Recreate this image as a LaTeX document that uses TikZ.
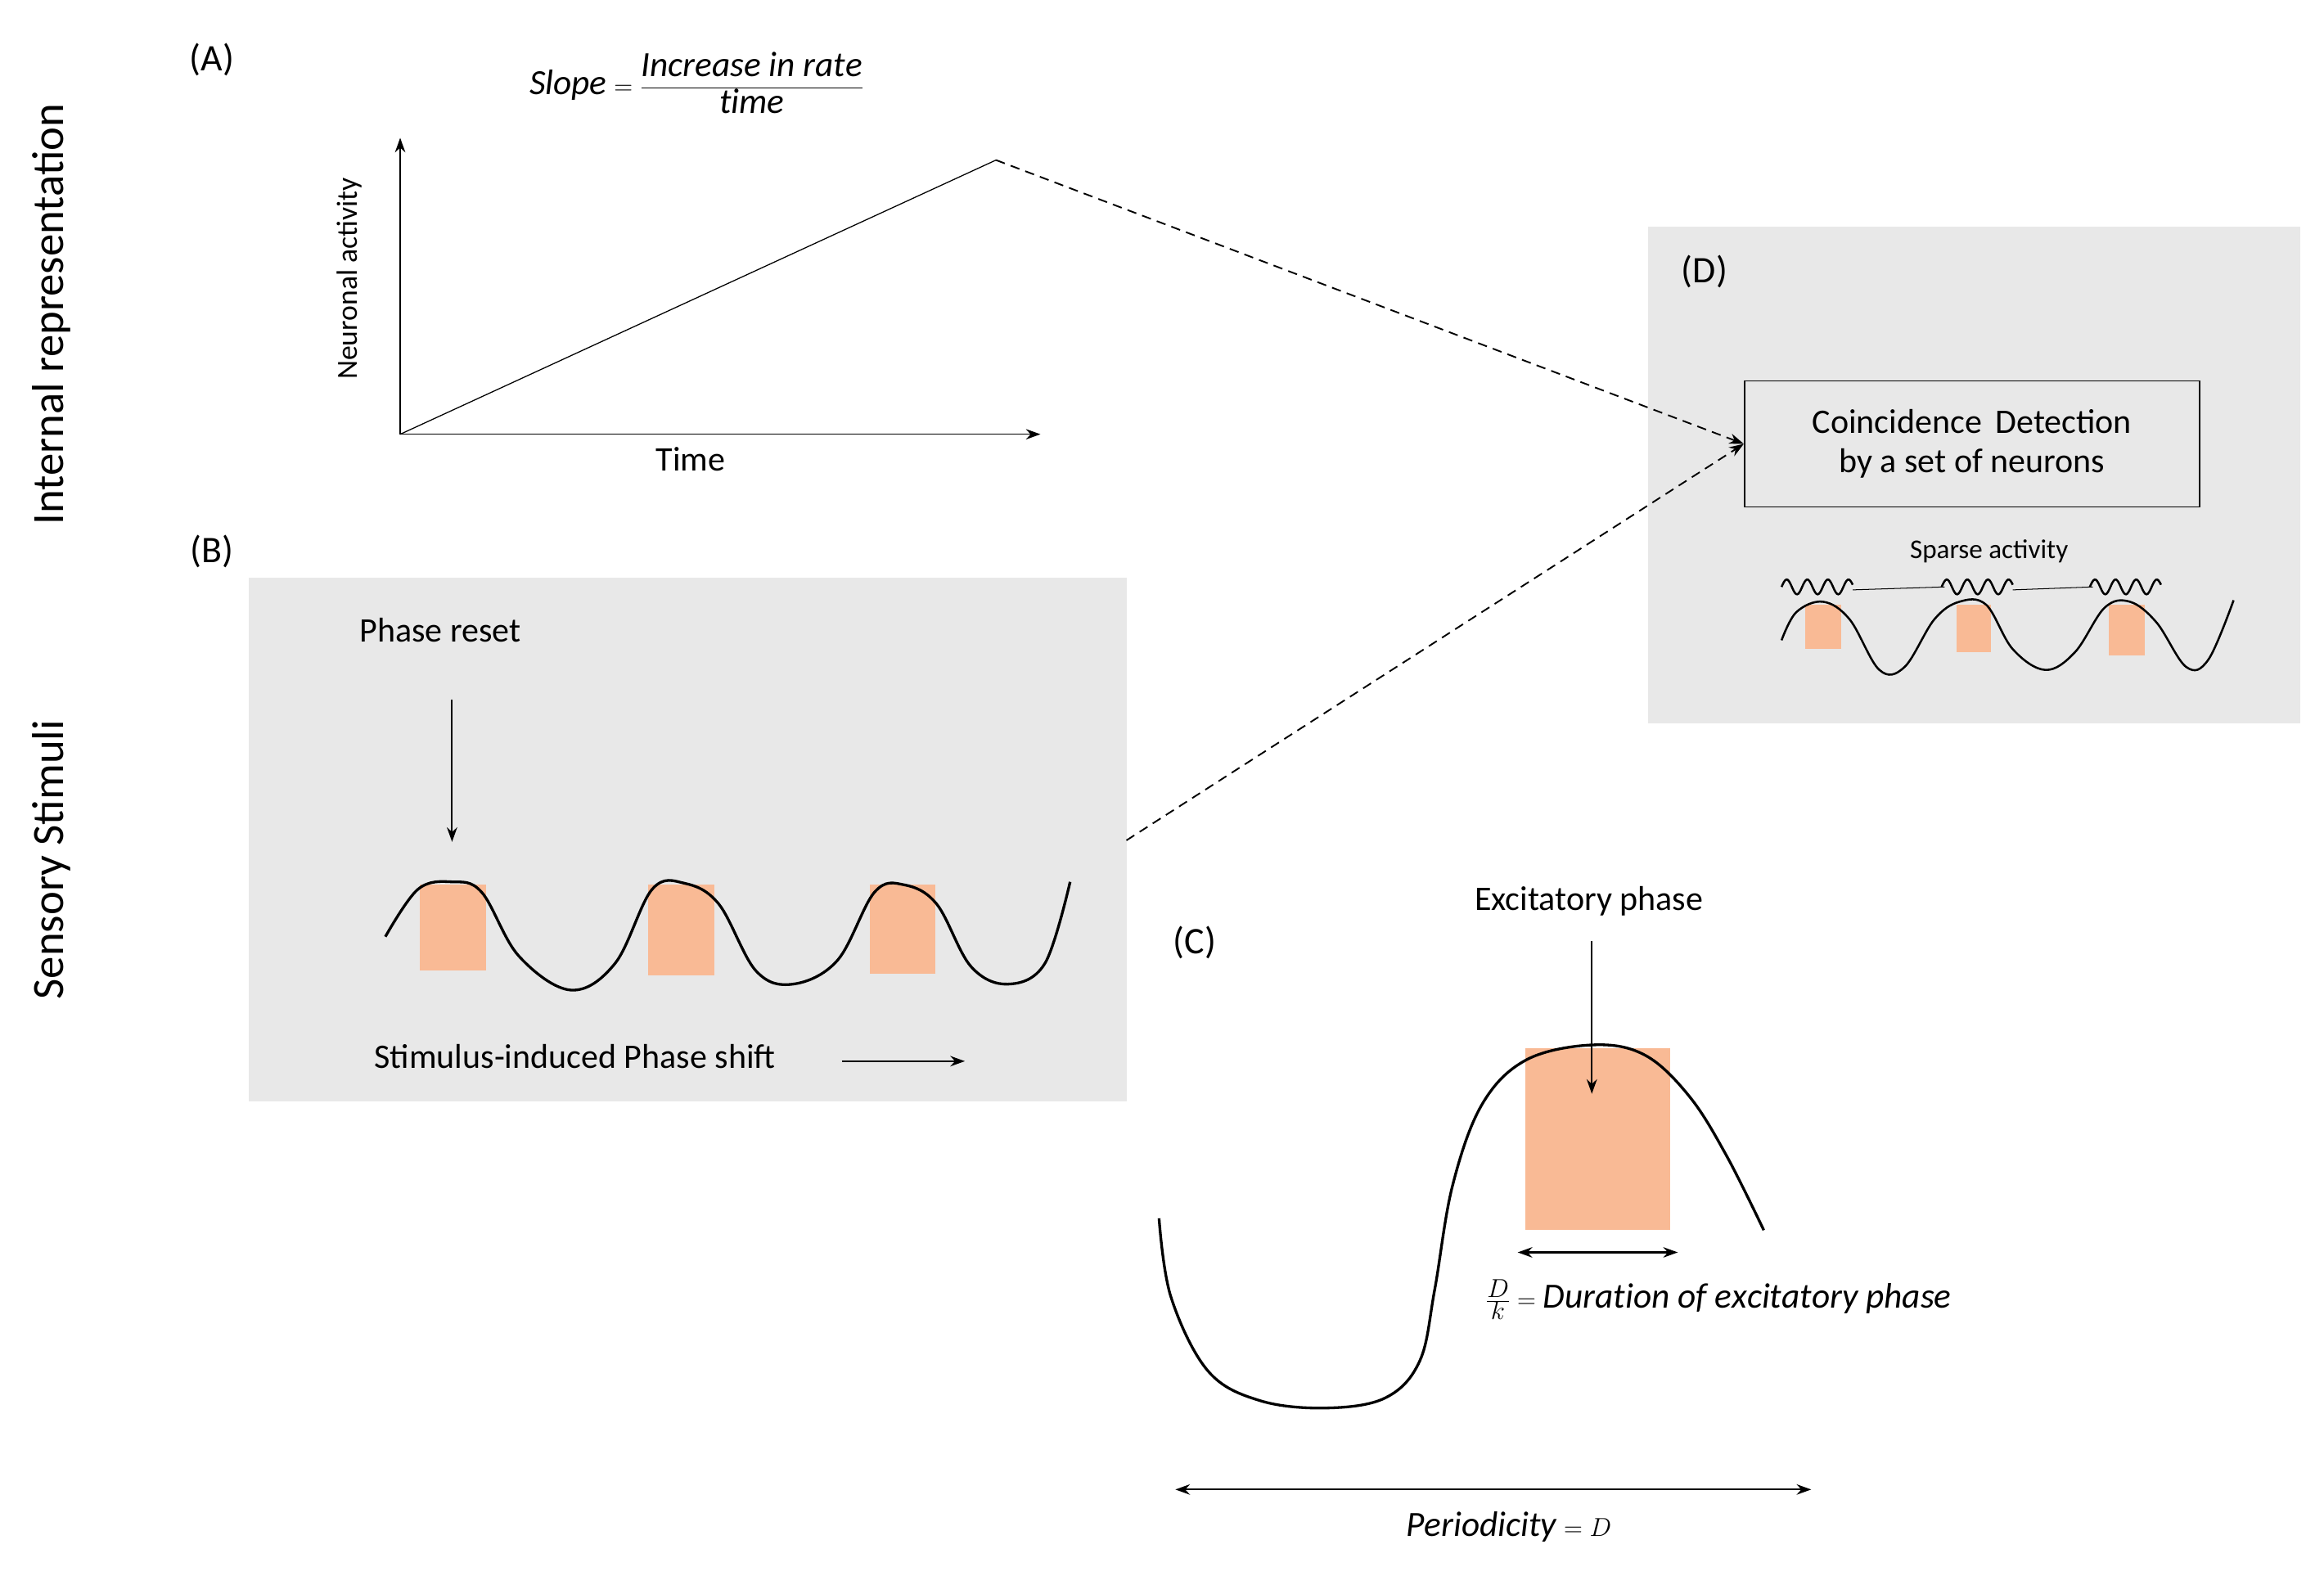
\documentclass[tikz,border=0pt]{standalone}
\usepackage{fontspec}
\setmainfont{Carlito}
\usetikzlibrary{arrows.meta}
\definecolor{bx}{HTML}{E8E8E8}
\definecolor{og}{HTML}{F9BA95}
\tikzset{
 wave/.style={line width=2.6pt,smooth,tension=0.6},
 arr/.style={-{Stealth[length=14pt,width=10pt]},line width=1.6pt},
 darr/.style={{Stealth[length=14pt,width=10pt]}-{Stealth[length=14pt,width=10pt]},line width=1.6pt},
 dsh/.style={line width=1.5pt,dash pattern=on 9pt off 6pt},
 lab/.style={font=\fontsize{36}{40}\selectfont},
 txt/.style={font=\fontsize{33}{38}\selectfont},
 sm/.style={font=\fontsize{28}{32}\selectfont},
}
\begin{document}
\begin{tikzpicture}[x=0.05cm,y=-0.05cm]
\useasboundingbox (0,0) rectangle (1568,1063);
% side labels
\node[rotate=90,font=\fontsize{43}{48}\selectfont] (ir) at (35,212) {Internal representation};
\node[rotate=90,font=\fontsize{43}{48}\selectfont] (ss) at (35,580) {Sensory Stimuli};
% (A)
\node[lab] (A) at (143,40) {(A)};
\node[font=\fontsize{34}{38}\selectfont] (sl) at (470,56) {$\displaystyle\mathit{Slope}=\frac{\mathit{Increase\ in\ rate}}{\mathit{time}}$};
\coordinate (o) at (270,293);
\coordinate (yt) at (270,93);
\coordinate (xt) at (702,293);
\coordinate (pk) at (672,108);
\draw[arr,line width=1.2pt] (o) -- (yt);
\draw[arr,line width=1.2pt] (o) -- (xt);
\draw[line width=1pt] (o) -- (pk);
\node[sm,rotate=90] (na) at (236,188) {Neuronal activity};
\node[txt] (tm) at (466,310) {Time};
% (B)
\node[lab] (B) at (143,372) {(B)};
\fill[bx] (168,390) rectangle (760,743);
\coordinate (be) at (760,567);
\node[txt] (pr) at (297,425) {Phase reset};
\fill[og] (283,597) rectangle (328,655);
\fill[og] (437,597) rectangle (482,658);
\fill[og] (587,597) rectangle (631,657);
\draw[wave] plot coordinates {(260,632)(282,600)(305,595)(325,602)(350,645)(385,668)(415,650)(440,600)(462,596)(485,610)(510,655)(535,664)(565,648)(590,602)(610,597)(632,610)(655,652)(680,664)(705,650)(722,595)};
\coordinate (pra) at (305,472); \coordinate (prb) at (305,568);
\draw[arr] (pra) -- (prb);
\node[txt] (sip) at (388,713) {Stimulus-induced Phase shift};
\coordinate (sa) at (568,716); \coordinate (sb) at (651,716);
\draw[arr] (sa) -- (sb);
% (D)
\fill[bx] (1112,153) rectangle (1552,488);
\node[lab] (D) at (1150,183) {(D)};
\node[draw,line width=1.4pt,minimum width=15.35cm,minimum height=4.25cm,align=center,txt,inner sep=0pt] (cd) at (1330.5,299.5) {Coincidence\, Detection\\by a set of neurons};
\node[font=\fontsize{26}{30}\selectfont] (spa) at (1342,372) {Sparse activity};
\fill[og] (1218,408) rectangle (1242,438);
\fill[og] (1320,408) rectangle (1343,440);
\fill[og] (1423,408) rectangle (1447,442);
\draw[wave,line width=2pt] plot coordinates {(1202,432)(1212,413)(1230,406)(1248,418)(1268,452)(1285,450)(1305,418)(1322,406)(1340,408)(1358,438)(1380,452)(1400,440)(1420,410)(1437,406)(1455,420)(1475,450)(1490,445)(1507,405)};
\foreach \s in {1202,1310,1410}{
 \draw[line width=2pt] plot[domain=0:48,samples=60,smooth] ({\s+\x},{396-5*sin(\x*25.9)});
}
\draw[line width=0.8pt] (1250,398) -- (1312,396);
\draw[line width=0.8pt] (1358,398) -- (1412,396);
% dashed connectors
\draw[dsh,-{Stealth[length=14pt,width=10pt]}] (pk) -- (cd.west);
\draw[dsh,-{Stealth[length=14pt,width=10pt]}] (be) -- (cd.west);
% (C)
\node[lab] (C) at (806,636) {(C)};
\node[txt] (ep) at (1072,608) {Excitatory phase};
\fill[og] (1029,707) rectangle (1127,830);
\draw[wave] plot coordinates {(782,822)(790,875)(815,925)(850,945)(895,950)(935,943)(958,918)(968,870)(980,800)(1000,745)(1030,715)(1075,705)(1110,712)(1140,740)(1165,780)(1190,830)};
\coordinate (epa) at (1074,635); \coordinate (epb) at (1074,738);
\draw[arr] (epa) -- (epb);
\coordinate (da) at (1024,845); \coordinate (db) at (1132,845);
\draw[darr] (da) -- (db);
\node[anchor=west,font=\fontsize{34}{38}\selectfont] (dk) at (1000,877) {$\frac{D}{k}=\mathit{Duration\ of\ excitatory\ phase}$};
\coordinate (pa) at (793,1005); \coordinate (pb) at (1222,1005);
\draw[darr] (pa) -- (pb);
\node[font=\fontsize{34}{38}\selectfont] (per) at (1018,1030) {$\mathit{Periodicity}=D$};
\end{tikzpicture}
\end{document}
